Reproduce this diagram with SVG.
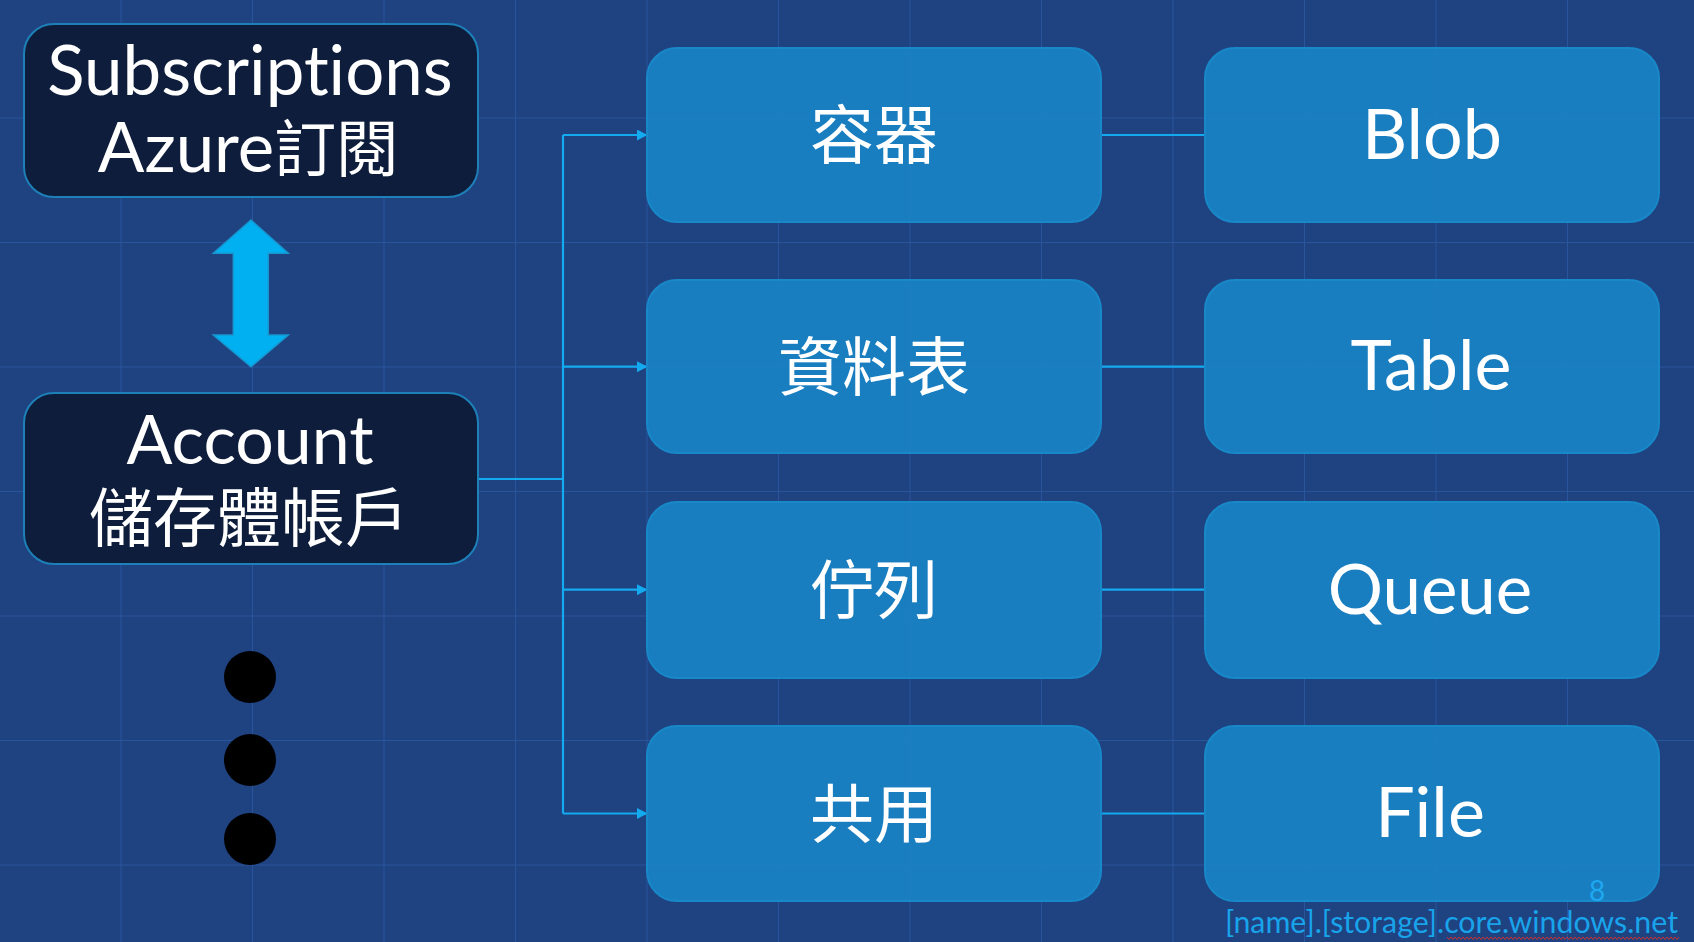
<svg xmlns="http://www.w3.org/2000/svg" width="1694" height="942" viewBox="0 0 1694 942">
<defs>
<style>
.grid line{stroke:#28559b;stroke-width:1.1}
.dark{fill:#0e1d3b;stroke:#1d80b8;stroke-width:2}
.blue{fill:#1a82c4;fill-opacity:0.94;stroke:#1888c8;stroke-width:2}
.lat{font-family:Lato,"Noto Sans","Noto Sans CJK TC",sans-serif;fill:#ffffff;text-anchor:middle;font-variant-ligatures:none}
.cjk{font-family:"Noto Sans CJK TC","Noto Sans CJK SC",sans-serif;fill:#ffffff;text-anchor:middle;font-size:64px}
.conn{stroke:#14aaf0;stroke-width:2.2;fill:none}
</style>
<marker id="ah" markerWidth="11" markerHeight="11" refX="10" refY="5.5" orient="auto" markerUnits="userSpaceOnUse">
<path d="M0,0 L10.5,5.5 L0,11 Z" fill="#14aaf0"/>
</marker>
</defs>
<rect x="0" y="0" width="1694" height="942" fill="#1f4281"/>
<g class="grid">
<line x1="121" y1="0" x2="121" y2="942"/>
<line x1="252.5" y1="0" x2="252.5" y2="942"/>
<line x1="384" y1="0" x2="384" y2="942"/>
<line x1="515.5" y1="0" x2="515.5" y2="942"/>
<line x1="647" y1="0" x2="647" y2="942"/>
<line x1="778.5" y1="0" x2="778.5" y2="942"/>
<line x1="910" y1="0" x2="910" y2="942"/>
<line x1="1041.5" y1="0" x2="1041.5" y2="942"/>
<line x1="1173" y1="0" x2="1173" y2="942"/>
<line x1="1304.5" y1="0" x2="1304.5" y2="942"/>
<line x1="1436" y1="0" x2="1436" y2="942"/>
<line x1="1567.5" y1="0" x2="1567.5" y2="942"/>
<line x1="0" y1="118" x2="1694" y2="118"/>
<line x1="0" y1="242.5" x2="1694" y2="242.5"/>
<line x1="0" y1="367" x2="1694" y2="367"/>
<line x1="0" y1="491.5" x2="1694" y2="491.5"/>
<line x1="0" y1="616" x2="1694" y2="616"/>
<line x1="0" y1="740.5" x2="1694" y2="740.5"/>
<line x1="0" y1="865" x2="1694" y2="865"/>
</g>
<g id="connectors">
<path class="conn" d="M478,479 H563"/>
<path class="conn" d="M563,135 V813.5"/>
<path class="conn" d="M563,135 H647" marker-end="url(#ah)"/>
<path class="conn" d="M563,366.7 H647" marker-end="url(#ah)"/>
<path class="conn" d="M563,589.7 H647" marker-end="url(#ah)"/>
<path class="conn" d="M563,813.5 H647" marker-end="url(#ah)"/>
<path class="conn" d="M1101,135 H1205"/>
<path class="conn" d="M1101,366.7 H1205"/>
<path class="conn" d="M1101,589.7 H1205"/>
<path class="conn" d="M1101,813.5 H1205"/>
</g>
<g id="subscriptions">
<rect class="dark" x="24" y="24" width="454" height="173" rx="30"/>
<text class="lat" x="250" y="95" font-size="69">Subscriptions</text>
<text class="lat" x="248" y="172" font-size="69">Azure<tspan font-family="Noto Sans CJK TC, sans-serif" font-size="62">訂閱</tspan></text>
</g>
<g id="double-arrow">
<path d="M251,220 L288.3,253.3 L268.3,253.3 L268.3,335 L288.3,335 L251,366.7 L213.3,335 L233.3,335 L233.3,253.3 L213.3,253.3 Z" fill="#00b0f0" stroke="#1796d0" stroke-width="1.5"/>
</g>
<g id="account">
<rect class="dark" x="24" y="393" width="454" height="171" rx="30"/>
<text class="lat" x="250" y="464" font-size="68">Account</text>
<text class="cjk" x="249" y="541" style="font-size:64px">儲存體帳戶</text>
</g>
<g id="ellipsis">
<circle cx="250" cy="677" r="26" fill="#000"/>
<circle cx="250" cy="760" r="26" fill="#000"/>
<circle cx="250" cy="839" r="26" fill="#000"/>
</g>
<g id="container">
<rect class="blue" x="647" y="48" width="454" height="174" rx="30"/>
<text class="cjk" x="874" y="158">容器</text>
</g>
<g id="table-zh">
<rect class="blue" x="647" y="280" width="454" height="173" rx="30"/>
<text class="cjk" x="874" y="390">資料表</text>
</g>
<g id="queue-zh">
<rect class="blue" x="647" y="502" width="454" height="176" rx="30"/>
<text class="cjk" x="874" y="613">佇列</text>
</g>
<g id="share-zh">
<rect class="blue" x="647" y="726" width="454" height="175" rx="30"/>
<text class="cjk" x="874" y="837">共用</text>
</g>
<g id="blob">
<rect class="blue" x="1205" y="48" width="454" height="174" rx="30"/>
<text class="lat" x="1432" y="158.5" font-size="70">Blob</text>
</g>
<g id="table">
<rect class="blue" x="1205" y="280" width="454" height="173" rx="30"/>
<text class="lat" x="1431" y="390" font-size="70">Table</text>
</g>
<g id="queue">
<rect class="blue" x="1205" y="502" width="454" height="176" rx="30"/>
<text class="lat" x="1430" y="613.5" font-size="69">Queue</text>
</g>
<g id="file">
<rect class="blue" x="1205" y="726" width="454" height="175" rx="30"/>
<text class="lat" x="1430" y="837" font-size="70">File</text>
</g>
<g id="footer">
<text x="1597" y="901" font-family="Lato, sans-serif" font-size="28" fill="#1ea8f0" text-anchor="middle">8</text>
<text x="1225" y="933" font-family="Lato, sans-serif" font-size="31" fill="#18a4ea" textLength="453" lengthAdjust="spacingAndGlyphs">[name].[storage].core.windows.net</text>
<polyline points="1447,937 1449,939.5 1451,937 1453,939.5 1455,937 1457,939.5 1459,937 1461,939.5 1463,937 1465,939.5 1467,937 1469,939.5 1471,937 1473,939.5 1475,937 1477,939.5 1479,937 1481,939.5 1483,937 1485,939.5 1487,937 1489,939.5 1491,937 1493,939.5 1495,937 1497,939.5 1499,937 1501,939.5 1503,937 1505,939.5 1507,937 1509,939.5 1511,937 1513,939.5 1515,937 1517,939.5 1519,937 1521,939.5 1523,937 1525,939.5 1527,937 1529,939.5 1531,937 1533,939.5 1535,937 1537,939.5 1539,937 1541,939.5 1543,937 1545,939.5 1547,937 1549,939.5 1551,937 1553,939.5 1555,937 1557,939.5 1559,937 1561,939.5 1563,937 1565,939.5 1567,937 1569,939.5 1571,937 1573,939.5 1575,937 1577,939.5 1579,937 1581,939.5 1583,937 1585,939.5 1587,937 1589,939.5 1591,937 1593,939.5 1595,937 1597,939.5 1599,937 1601,939.5 1603,937 1605,939.5 1607,937 1609,939.5 1611,937 1613,939.5 1615,937 1617,939.5 1619,937 1621,939.5 1623,937 1625,939.5 1627,937 1629,939.5 1631,937 1633,939.5 1635,937 1637,939.5 1639,937 1641,939.5 1643,937 1645,939.5 1647,937 1649,939.5 1651,937 1653,939.5 1655,937 1657,939.5 1659,937 1661,939.5 1663,937 1665,939.5 1667,937 1669,939.5 1671,937 1673,939.5 1675,937 1677,939.5 1679,937" fill="none" stroke="#d03030" stroke-width="1"/>
</g>
</svg>
